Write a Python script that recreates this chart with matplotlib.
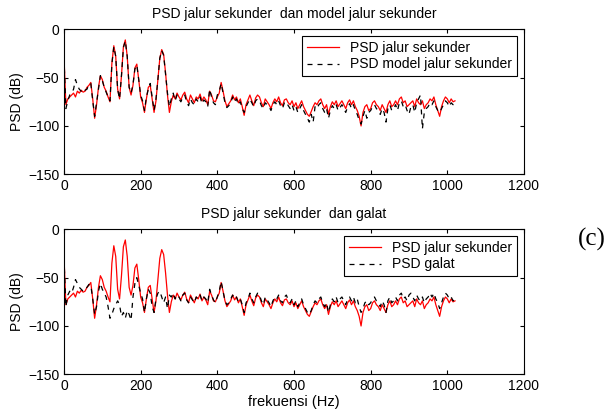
import numpy as np
import matplotlib
matplotlib.use("Agg")
import matplotlib.pyplot as plt

plt.rcParams['font.family'] = ['Liberation Sans', 'DejaVu Sans']

# frequency grid (Hz), 5 Hz steps
freq = np.arange(0, 1021, 5)

# PSD jalur sekunder (dB)
psd_jalur = [
    -28, -78, -72, -70, -68, -66, -70, -64, -66, -63, -65, -64, -60, -58, -55, -72,
    -92, -78, -60, -48, -52, -60, -64, -70, -75, -35, -17, -28, -62, -72, -48, -18,
    -11, -28, -60, -68, -58, -40, -36, -52, -70, -76, -86, -72, -60, -58, -72, -86,
    -74, -52, -30, -21, -26, -45, -68, -86, -75, -68, -72, -66, -70, -73, -68, -65,
    -72, -76, -68, -72, -76, -70, -72, -67, -74, -70, -73, -78, -64, -68, -74, -75,
    -70, -66, -55, -64, -74, -80, -77, -74, -68, -73, -70, -76, -72, -80, -89, -78,
    -73, -68, -74, -79, -71, -68, -70, -76, -80, -72, -75, -78, -82, -76, -72, -75,
    -70, -76, -79, -73, -72, -76, -78, -74, -80, -76, -82, -78, -74, -80, -84, -88,
    -90, -85, -80, -76, -78, -74, -72, -78, -82, -78, -88, -80, -75, -78, -74, -80,
    -77, -74, -78, -82, -76, -73, -78, -74, -80, -84, -90, -100, -86, -80, -78, -84,
    -82, -76, -74, -78, -80, -84, -78, -82, -86, -78, -74, -80, -78, -74, -78, -72,
    -70, -76, -74, -80, -78, -76, -74, -80, -72, -76, -78, -74, -82, -78, -76, -72,
    -74, -70, -78, -84, -90, -80, -74, -70, -72, -76, -72, -75, -74,
]

# PSD model jalur sekunder (dB)
psd_model = [
    -30, -82, -74, -68, -66, -62, -52, -58, -62, -64, -66, -63, -62, -57, -56, -74,
    -90, -76, -62, -48, -53, -60, -65, -70, -74, -36, -18, -28, -62, -72, -48, -19,
    -12, -28, -60, -66, -57, -41, -37, -52, -68, -74, -84, -70, -62, -56, -70, -84,
    -72, -52, -30, -22, -27, -46, -66, -80, -72, -66, -74, -68, -72, -75, -70, -68,
    -75, -79, -72, -76, -78, -72, -75, -70, -77, -73, -75, -80, -62, -70, -76, -78,
    -68, -64, -56, -66, -76, -81, -79, -76, -70, -75, -72, -78, -75, -82, -86, -80,
    -76, -72, -76, -80, -74, -72, -74, -79, -82, -76, -78, -80, -84, -78, -75, -78,
    -74, -79, -82, -76, -75, -79, -82, -78, -84, -80, -86, -82, -78, -84, -88, -92,
    -96, -88, -96, -80, -82, -78, -76, -82, -86, -82, -92, -84, -79, -82, -78, -84,
    -81, -78, -82, -86, -80, -77, -82, -78, -84, -88, -94, -98, -90, -84, -92, -86,
    -84, -80, -78, -82, -84, -88, -82, -86, -96, -82, -78, -84, -82, -78, -84, -76,
    -74, -80, -78, -84, -88, -80, -78, -86, -76, -72, -68, -103, -86, -82, -80, -76,
    -78, -74, -80, -84, -86, -82, -78, -74, -76, -80, -76, -78, -76,
]

# PSD galat (dB)
psd_galat = [
    -30, -80, -68, -64, -66, -60, -52, -56, -60, -62, -64, -63, -60, -57, -58, -72,
    -88, -80, -64, -56, -62, -66, -70, -80, -92, -88, -82, -78, -74, -78, -90, -86,
    -92, -84, -88, -94, -70, -56, -50, -58, -66, -72, -86, -72, -62, -66, -80, -86,
    -72, -66, -64, -70, -76, -70, -82, -68, -70, -66, -72, -68, -70, -74, -68, -66,
    -73, -76, -70, -73, -76, -70, -72, -68, -74, -70, -72, -76, -62, -68, -73, -76,
    -70, -64, -54, -64, -74, -78, -76, -72, -68, -72, -70, -75, -72, -78, -86, -76,
    -72, -66, -72, -76, -70, -66, -68, -74, -78, -70, -73, -76, -80, -74, -70, -72,
    -68, -74, -76, -70, -68, -73, -76, -72, -78, -74, -80, -76, -72, -78, -82, -86,
    -88, -84, -78, -74, -76, -72, -70, -76, -80, -76, -86, -78, -72, -75, -70, -76,
    -72, -70, -74, -78, -72, -70, -74, -70, -76, -72, -80, -86, -82, -76, -74, -78,
    -76, -72, -70, -74, -76, -80, -74, -78, -86, -74, -70, -76, -74, -70, -74, -68,
    -66, -72, -70, -74, -68, -66, -70, -74, -68, -72, -74, -70, -76, -72, -70, -66,
    -70, -66, -72, -76, -82, -76, -70, -66, -68, -72, -70, -74, -72,
]

panels = [
    ("PSD jalur sekunder  dan model jalur sekunder", psd_model,
     "PSD model jalur sekunder", [0.1047, 0.580, 0.7529, 0.3494]),
    ("PSD jalur sekunder  dan galat", psd_galat,
     "PSD galat", [0.1047, 0.098, 0.7529, 0.3494]),
]

fig = plt.figure(figsize=(6.11, 4.15), dpi=100)

for i, (title, other, other_label, rect) in enumerate(panels):
    ax = fig.add_axes(rect)
    ax.plot(freq, psd_jalur, color="red", lw=0.9, label="PSD jalur sekunder")
    ax.plot(freq, other, color="black", lw=0.9, ls=(0, (4, 4)), label=other_label)
    ax.set_xlim(0, 1200)
    ax.set_ylim(-150, 0)
    ax.set_xticks([0, 200, 400, 600, 800, 1000, 1200])
    ax.set_yticks([-150, -100, -50, 0])
    ax.tick_params(direction="in", top=True, right=True, labelsize=10, length=3)
    ax.set_title(title, fontsize=10, pad=8)
    ax.set_ylabel("PSD (dB)", fontsize=10, labelpad=3)
    leg = ax.legend(loc="upper right", bbox_to_anchor=(0.985, 0.955), fontsize=10,
                    fancybox=False, edgecolor="black", framealpha=1,
                    handlelength=2.3, borderaxespad=0, borderpad=0.35,
                    labelspacing=0.2)
    leg.get_frame().set_linewidth(0.8)
    if i == 1:
        ax.set_xlabel("frekuensi (Hz)", fontsize=10.5, labelpad=1)

fig.text(0.968, 0.422, "(c)", fontsize=18, family="Liberation Serif",
         ha="center", va="center")

fig.savefig("out.png", dpi=100)
